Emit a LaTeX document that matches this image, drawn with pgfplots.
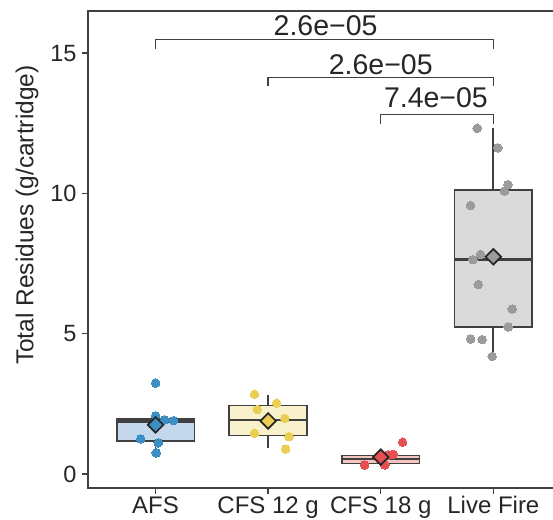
\documentclass[border=0pt]{standalone}
\usepackage{fontspec}
\setmainfont{Liberation Sans}
\usepackage{pgfplots}
\pgfplotsset{compat=1.18}
\usepgfplotslibrary{statistics}
\definecolor{afsP}{HTML}{3B8FC4}
\definecolor{afsF}{HTML}{C5D8EB}
\definecolor{c12P}{HTML}{EBCF55}
\definecolor{c12F}{HTML}{F8F1CC}
\definecolor{c18P}{HTML}{E65050}
\definecolor{c18F}{HTML}{F4C4BF}
\definecolor{lfP}{HTML}{9B9B9B}
\definecolor{lfF}{HTML}{DADADA}
\definecolor{edge}{HTML}{404040}
\begin{document}
\begin{tikzpicture}
\useasboundingbox (-88bp,-32bp) rectangle (465bp,488bp);
\begin{axis}[
  at={(0,0)}, anchor=south west,
  scale only axis, width=472.92bp, height=477bp,
  xmin=0.4, xmax=4.6, ymin=-0.5, ymax=16.5,
  xtick={1,2,3,4},
  xticklabels={AFS, CFS 12 g, CFS 18 g, Live Fire},
  ytick={0,5,10,15},
  xtick pos=bottom, ytick pos=left,
  tick align=outside, major tick length=6bp,
  tick style={edge, line width=1.4bp},
  axis line style={edge, line width=1.4bp},
  /pgf/number format/assume math mode=true,
  yticklabel style={font=\fontsize{23.5bp}{27bp}\selectfont, text=black!85, xshift=-2bp},
  xticklabel style={font=\fontsize{24bp}{28bp}\selectfont, text=black!85, yshift=1bp},
  ylabel={Total Residues (g/cartridge)},
  ylabel style={at={(rel axis cs:-0.129,0.572)}, anchor=center, font=\fontsize{24.5bp}{28bp}\selectfont, text=black!85},
  boxplot/draw direction=y,
  boxplot/every median/.style={line width=2.4bp},
]
% boxes
\addplot[draw=edge, fill=afsF, line width=1.8bp, boxplot prepared={draw position=1, lower whisker=0.75, lower quartile=1.18, median=1.87, upper quartile=1.96, upper whisker=2.07, box extend=0.69, whisker extend=0}] coordinates {};
\addplot[draw=edge, fill=c12F, line width=1.8bp, boxplot prepared={draw position=2, lower whisker=0.93, lower quartile=1.37, median=1.93, upper quartile=2.44, upper whisker=2.82, box extend=0.69, whisker extend=0}] coordinates {};
\addplot[draw=edge, fill=c18F, line width=1.6bp, boxplot prepared={draw position=3, lower whisker=0.32, lower quartile=0.38, median=0.52, upper quartile=0.66, upper whisker=0.70, box extend=0.69, whisker extend=0, every median/.style={line width=1.8bp}}] coordinates {};
\addplot[draw=edge, fill=lfF, line width=1.8bp, boxplot prepared={draw position=4, lower whisker=4.19, lower quartile=5.24, median=7.64, upper quartile=10.11, upper whisker=12.32, box extend=0.69, whisker extend=0}] coordinates {};
% jittered points
\addplot[only marks, mark=*, mark size=4.3bp, mark options={draw=afsP, fill=afsP, line width=0pt}] coordinates {
(1.000,3.24) (1.000,2.07) (1.080,1.93) (1.160,1.90) (0.867,1.25) (1.024,1.11) (1.006,0.75)};
\addplot[only marks, mark=*, mark size=4.3bp, mark options={draw=c12P, fill=c12P, line width=0pt}] coordinates {
(1.879,2.84) (2.075,2.52) (1.903,2.30) (2.148,1.98) (1.879,1.45) (2.184,1.33) (2.155,0.89)};
\addplot[only marks, mark=*, mark size=4.3bp, mark options={draw=c18P, fill=c18P, line width=0pt}] coordinates {
(3.194,1.13) (3.111,0.70) (3.070,0.68) (2.856,0.32) (3.036,0.32)};
\addplot[only marks, mark=*, mark size=4.3bp, mark options={draw=lfP, fill=lfP, line width=0pt}] coordinates {
(3.857,12.32) (4.040,11.62) (4.129,10.31) (4.099,10.08) (3.798,9.57) (3.886,7.82) (3.818,7.64)
(3.866,6.75) (4.168,5.88) (4.132,5.24) (3.798,4.81) (3.901,4.79) (3.990,4.19)};
% means
\addplot[only marks, mark=square*, mark size=5.5bp, mark options={rotate=45, fill=afsP, draw=black!85, line width=1.7bp}] coordinates {(1,1.75)};
\addplot[only marks, mark=square*, mark size=5.5bp, mark options={rotate=45, fill=c12P, draw=black!85, line width=1.7bp}] coordinates {(2,1.89)};
\addplot[only marks, mark=square*, mark size=5.5bp, mark options={rotate=45, fill=c18P, draw=black!85, line width=1.7bp}] coordinates {(3,0.60)};
\addplot[only marks, mark=square*, mark size=5.5bp, mark options={rotate=45, fill=lfP, draw=black!85, line width=1.7bp}] coordinates {(4,7.74)};
% significance brackets
\addplot[draw=edge, line width=1.4bp] coordinates {(1,15.14) (1,15.475) (4,15.475) (4,15.14)};
\addplot[draw=edge, line width=1.4bp] coordinates {(2,13.82) (2,14.13) (4,14.13) (4,13.82)};
\addplot[draw=edge, line width=1.4bp] coordinates {(3,12.46) (3,12.82) (4,12.82) (4,12.46)};
\node[anchor=base, font=\fontsize{28.5bp}{31bp}\selectfont, text=black!85] at (axis cs:2.51,15.64) {2.6e−05};
\node[anchor=base, font=\fontsize{28.5bp}{31bp}\selectfont, text=black!85] at (axis cs:3.00,14.25) {2.6e−05};
\node[anchor=base, font=\fontsize{28.5bp}{31bp}\selectfont, text=black!85] at (axis cs:3.49,13.06) {7.4e−05};
\end{axis}
\end{tikzpicture}
\end{document}
